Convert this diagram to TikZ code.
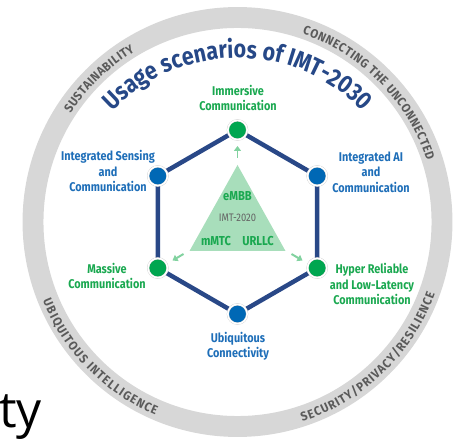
\documentclass[tikz,border=0pt]{standalone}
\usepackage{fontspec}
\usetikzlibrary{decorations.text,arrows.meta}
\setmainfont{Fira Sans}
\newfontfamily\lblfont{Fira Sans}[FakeStretch=0.86]
\newfontfamily\ringfont{Fira Sans}[FakeStretch=0.92]
\newfontfamily\tyfont{Open Sans}
\definecolor{ringgray}{RGB}{215,215,215}
\definecolor{ringtext}{RGB}{90,90,90}
\definecolor{hexnavy}{RGB}{41,72,135}
\definecolor{titleblue}{RGB}{38,72,135}
\definecolor{dotgreen}{RGB}{0,166,80}
\definecolor{dotblue}{RGB}{0,104,181}
\definecolor{lblgreen}{RGB}{26,168,80}
\definecolor{lblblue}{RGB}{30,110,184}
\definecolor{trifill}{RGB}{168,222,187}
\definecolor{arrgreen}{RGB}{130,210,160}
\definecolor{imtgray}{RGB}{100,100,100}
\begin{document}
\begin{tikzpicture}[x=1bp,y=1bp,
  lbl/.style={font=\lblfont\bfseries\fontsize{12.7}{15.5}\selectfont, align=center, inner sep=0},
  glbl/.style={lbl, text=lblgreen},
  blbl/.style={lbl, text=lblblue},
  dotbase/.style={circle, minimum size=19.4, inner sep=0, draw=black!22, line width=0.3, double=white, double distance=1.6},
  gdot/.style={dotbase, fill=dotgreen},
  bdot/.style={dotbase, fill=dotblue},
  hexline/.style={draw=hexnavy, line width=4.5, line join=round},
  arr/.style={draw=arrgreen, line width=2, -{Triangle[length=5,width=7]}},
  tri/.style={font=\lblfont\bfseries\fontsize{13}{14}\selectfont, text=lblgreen, inner sep=0}
]
\useasboundingbox (-237.5,-218) rectangle (215.5,222);
% outer ring
\draw[ringgray, line width=21] (0,0) circle (204.5);
% ring texts
\path[decorate, decoration={text along path, text align={fit to path},
  text={|\ringfont\bfseries\fontsize{12.5}{12.5}\selectfont\color{ringtext}|SUSTAINABILITY}}]
  (147:199) arc[start angle=147, end angle=121, radius=199];
\path[decorate, decoration={text along path, text align={fit to path},
  text={|\ringfont\bfseries\fontsize{12.5}{12.5}\selectfont\color{ringtext}|CONNECTING THE UNCONNECTED}}]
  (71:199) arc[start angle=71, end angle=18, radius=199];
\path[decorate, decoration={text along path, text align={fit to path},
  text={|\ringfont\bfseries\fontsize{12.5}{12.5}\selectfont\color{ringtext}|UBIQUITOUS INTELLIGENCE}}]
  (202:210) arc[start angle=202, end angle=247, radius=210];
\path[decorate, decoration={text along path, text align={fit to path},
  text={|\ringfont\bfseries\fontsize{12.5}{12.5}\selectfont\color{ringtext}|SECURITY/PRIVACY/RESILIENCE}}]
  (288:210) arc[start angle=288, end angle=340, radius=210];
% title
\path[decorate, decoration={text along path, text align={fit to path},
  text={|\lblfont\bfseries\fontsize{25}{25}\selectfont\color{titleblue}|Usage scenarios of IMT-2030}}]
  (0,-10) ++(136:174) arc[start angle=136, end angle=44, radius=174];
% hexagon
\coordinate (v1) at (90:92);
\coordinate (v2) at (30:92);
\coordinate (v3) at (-30:92);
\coordinate (v4) at (-90:92);
\coordinate (v5) at (210:92);
\coordinate (v6) at (150:92);
\draw[hexline] (v1) -- (v2) -- (v3) -- (v4) -- (v5) -- (v6) -- cycle;
% triangle
\coordinate (t1) at (0,57);
\coordinate (t2) at (-48,-29);
\coordinate (t3) at (48,-29);
\fill[trifill] (t1) -- (t2) -- (t3) -- cycle;
\node[tri] (embb) at (0,26) {eMBB};
\node[font=\lblfont\fontsize{11}{12}\selectfont, text=imtgray, inner sep=0] (imt) at (0,4) {IMT-2020};
\node[tri] (mmtc) at (-21.5,-19) {mMTC};
\node[tri] (urllc) at (20.5,-19) {URLLC};
% arrows
\coordinate (a1s) at (0,64);   \coordinate (a1e) at (0,76);
\coordinate (a2s) at (-54,-32); \coordinate (a2e) at (-65,-38.5);
\coordinate (a3s) at (54,-32);  \coordinate (a3e) at (65,-38.5);
\draw[arr] (a1s) -- (a1e);
\draw[arr] (a2s) -- (a2e);
\draw[arr] (a3s) -- (a3e);
% dots
\node[gdot] (n1) at (v1) {};
\node[bdot] (n2) at (v2) {};
\node[gdot] (n3) at (v3) {};
\node[bdot] (n4) at (v4) {};
\node[gdot] (n5) at (v5) {};
\node[bdot] (n6) at (v6) {};
% labels
\node[glbl] (l1) at (0.5,124) {Immersive\\Communication};
\node[blbl] (l2) at (133.5,50) {Integrated AI\\and\\Communication};
\node[glbl] (l3) at (134.5,-62) {Hyper Reliable\\and Low-Latency\\Communication};
\node[blbl] (l4) at (0.5,-124) {Ubiquitous\\Connectivity};
\node[glbl] (l5) at (-130.5,-54) {Massive\\Communication};
\node[blbl] (l6) at (-129.5,51) {Integrated Sensing\\and\\Communication};
% fragment
\node[font=\tyfont\fontsize{50}{50}\selectfont, anchor=base west, inner sep=0] (ty) at (-238.5,-205) {ty};
\end{tikzpicture}
\end{document}
